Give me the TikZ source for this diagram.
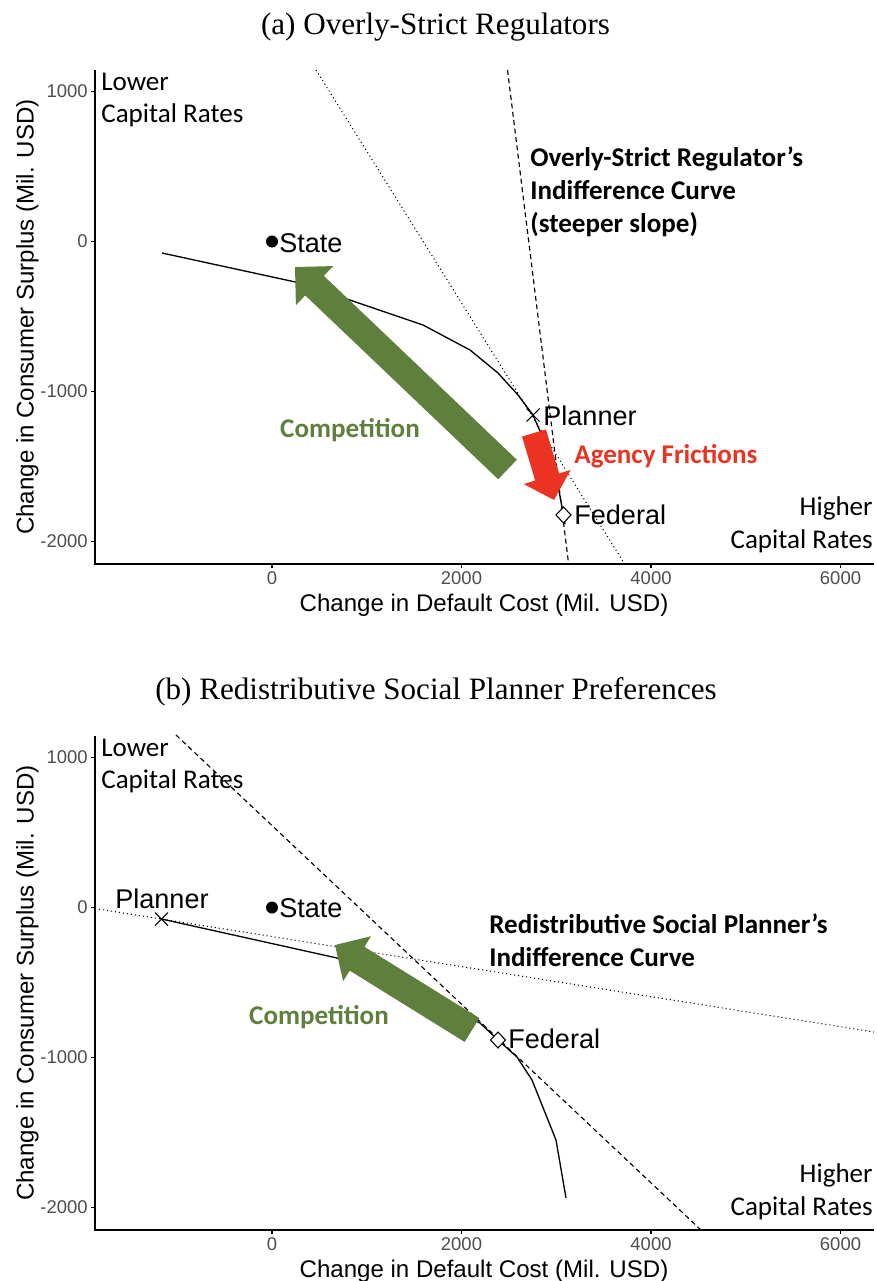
\documentclass[tikz,border=0pt]{standalone}
\usepackage{fontspec}
\usepackage{tikz}
\usetikzlibrary{calc}
\newfontfamily\axisfont{Liberation Sans}
\newfontfamily\notefont{Carlito}
\newfontfamily\capfont{Liberation Serif}
\definecolor{compgreen}{HTML}{5E803C}
\definecolor{agencyred}{HTML}{EA3323}
\definecolor{tickgray}{HTML}{4D4D4D}
\tikzset{
    axisline/.style={line width=0.85pt},
    frontier/.style={line width=0.75pt},
    indiff/.style={line width=0.65pt, dash pattern=on 2.8pt off 2pt},
    tanline/.style={line width=0.6pt, dash pattern=on 0.6pt off 1.7pt},
    ptmark/.style={line width=0.6pt},
    ticklabel/.style={font=\axisfont\fontsize{10.5}{12}\selectfont, text=tickgray, inner sep=0pt},
    axislabel/.style={font=\axisfont\fontsize{13.7}{16}\selectfont, inner sep=0pt},
    pointlabel/.style={font=\axisfont\fontsize{15.4}{18}\selectfont, inner sep=0pt},
    cornernote/.style={font=\notefont\fontsize{15.4}{18.7}\selectfont, inner sep=0pt},
    boldnote/.style={font=\notefont\bfseries\fontsize{15.4}{18.7}\selectfont, inner sep=0pt, align=left},
    paneltitle/.style={font=\capfont\fontsize{17.7}{21}\selectfont, inner sep=0pt},
}
% fat arrow: style, tail, tip, half shaft, half head, head length
\newcommand{\blockarrow}[6]{%
    \coordinate (#3-base) at ($(#3)!#6!(#2)$);
    \fill[#1] (#3) -- ($(#3-base)!#5!90:(#2)$) -- ($(#3-base)!#4!90:(#2)$)
        -- ($(#2)!#4!-90:(#3-base)$) -- ($(#2)!#4!90:(#3-base)$)
        -- ($(#3-base)!#4!-90:(#2)$) -- ($(#3-base)!#5!-90:(#2)$) -- cycle;
}

\begin{document}
\begin{tikzpicture}[x=0.02cm, y=-0.02cm]
    \useasboundingbox (0,0) rectangle (876,1281);

    % axes of both panels
    \foreach \off/\p in {0/a, 666/b} {
        \begin{scope}[shift={(0,\off)}]
            \draw[axisline] (95,70) -- (95,564) -- (874,564);
            \foreach \yy/\lab in {91.5/1000, 241.5/0, 391.5/-1000, 541.5/-2000} {
                \draw[axisline] (91,\yy) -- (95,\yy);
                \node[ticklabel, anchor=east] (yt\p\lab) at (88,\yy) {\lab};
            }
            \foreach \xx/\lab in {272/0, 461.5/2000, 651/4000, 840.5/6000} {
                \draw[axisline] (\xx,564) -- (\xx,568);
                \node[ticklabel, anchor=north] (xt\p\lab) at (\xx,571) {\lab};
            }
            \node[axislabel, anchor=base] (xlab\p) at (484,611.5) {Change in Default Cost (Mil. USD)};
            \node[axislabel, anchor=base, rotate=90] (ylab\p) at (33.5,317) {Change in Consumer Surplus (Mil. USD)};
        \end{scope}
    }

    % (a) overly-strict regulators
    \node[paneltitle] (titleA) at (435.5,27) {(a) Overly-Strict Regulators};

    \coordinate (stateA) at (272,241.5);
    \coordinate (plannerA) at (533,415);
    \coordinate (federalA) at (563.5,515);

    \draw[tanline] (316,70) -- (624,563);
    \draw[indiff] (507.5,70) -- (568.5,563);
    \draw[frontier] (162,253) -- (300,283) -- (423,325) -- (470,350) -- (498,373) -- (518,395)
        -- (plannerA) -- (545,443) -- (556,475) -- (federalA) -- (565,524);

    \coordinate (compA-tail) at (507.5,469.5);
    \coordinate (compA-tip) at (295,267);
    \blockarrow{compgreen}{compA-tail}{compA-tip}{0.27cm}{0.54cm}{0.54cm}
    \coordinate (agency-tail) at (534,433);
    \coordinate (agency-tip) at (554,500);
    \blockarrow{agencyred}{agency-tail}{agency-tip}{0.25cm}{0.49cm}{0.48cm}

    \fill (stateA) circle[radius=0.12cm];
    \draw[ptmark] ($(plannerA)+(-6.5,-6.5)$) -- ($(plannerA)+(6.5,6.5)$)
        ($(plannerA)+(-6.5,6.5)$) -- ($(plannerA)+(6.5,-6.5)$);
    \draw[ptmark, fill=white] ($(federalA)+(-7.5,0)$) -- ($(federalA)+(0,-8)$)
        -- ($(federalA)+(7.5,0)$) -- ($(federalA)+(0,8)$) -- cycle;

    % Labels
    \node[pointlabel, anchor=base west] (stateLabA) at (279,252) {State};
    \node[pointlabel, anchor=base west] (plannerLabA) at (543,425) {Planner};
    \node[pointlabel, anchor=base west] (federalLabA) at (574,524) {Federal};
    \node[cornernote, anchor=west, align=left] (lowerA) at (101,100) {Lower\\Capital Rates};
    \node[cornernote, anchor=east, align=right] (higherA) at (873,525) {Higher\\Capital Rates};
    \node[boldnote, anchor=west] (strictA) at (530,192) {Overly-Strict Regulator’s\\Indifference Curve\\(steeper slope)};
    \node[boldnote, text=compgreen, anchor=base] (compLabA) at (350,437) {Competition};
    \node[boldnote, text=agencyred, anchor=base west] (agencyLab) at (574,463) {Agency Frictions};

    % (b) redistributive planner
    \node[paneltitle] (titleB) at (436,692) {(b) Redistributive Social Planner Preferences};

    \coordinate (stateB) at (272,907.5);
    \coordinate (plannerB) at (161.5,919);
    \coordinate (federalB) at (498,1040);

    \draw[tanline] (95,908.5) -- (874,1032);
    \draw[indiff] (176,735) -- (701,1230);
    \draw[frontier] (plannerB) -- (337,958) -- (480,1023) -- (federalB) -- (517,1057) -- (532,1080)
        -- (556,1140) -- (566,1198);

    \coordinate (compB-tail) at (472,1030);
    \coordinate (compB-tip) at (335,945);
    \blockarrow{compgreen}{compB-tail}{compB-tip}{0.28cm}{0.53cm}{0.52cm}

    \fill (stateB) circle[radius=0.12cm];
    \draw[ptmark] ($(plannerB)+(-6.5,-6.5)$) -- ($(plannerB)+(6.5,6.5)$)
        ($(plannerB)+(-6.5,6.5)$) -- ($(plannerB)+(6.5,-6.5)$);
    \draw[ptmark, fill=white] ($(federalB)+(-7.5,0)$) -- ($(federalB)+(0,-8)$)
        -- ($(federalB)+(7.5,0)$) -- ($(federalB)+(0,8)$) -- cycle;

    % Labels
    \node[pointlabel, anchor=base west] (stateLabB) at (279,917) {State};
    \node[pointlabel, anchor=base west] (plannerLabB) at (115,908) {Planner};
    \node[pointlabel, anchor=base west] (federalLabB) at (508,1048) {Federal};
    \node[cornernote, anchor=west, align=left] (lowerB) at (101,766) {Lower\\Capital Rates};
    \node[cornernote, anchor=east, align=right] (higherB) at (873,1192) {Higher\\Capital Rates};
    \node[boldnote, anchor=west] (redistB) at (489,940) {Redistributive Social Planner’s\\Indifference Curve};
    \node[boldnote, text=compgreen, anchor=base] (compLabB) at (319,1024) {Competition};
\end{tikzpicture}
\end{document}
